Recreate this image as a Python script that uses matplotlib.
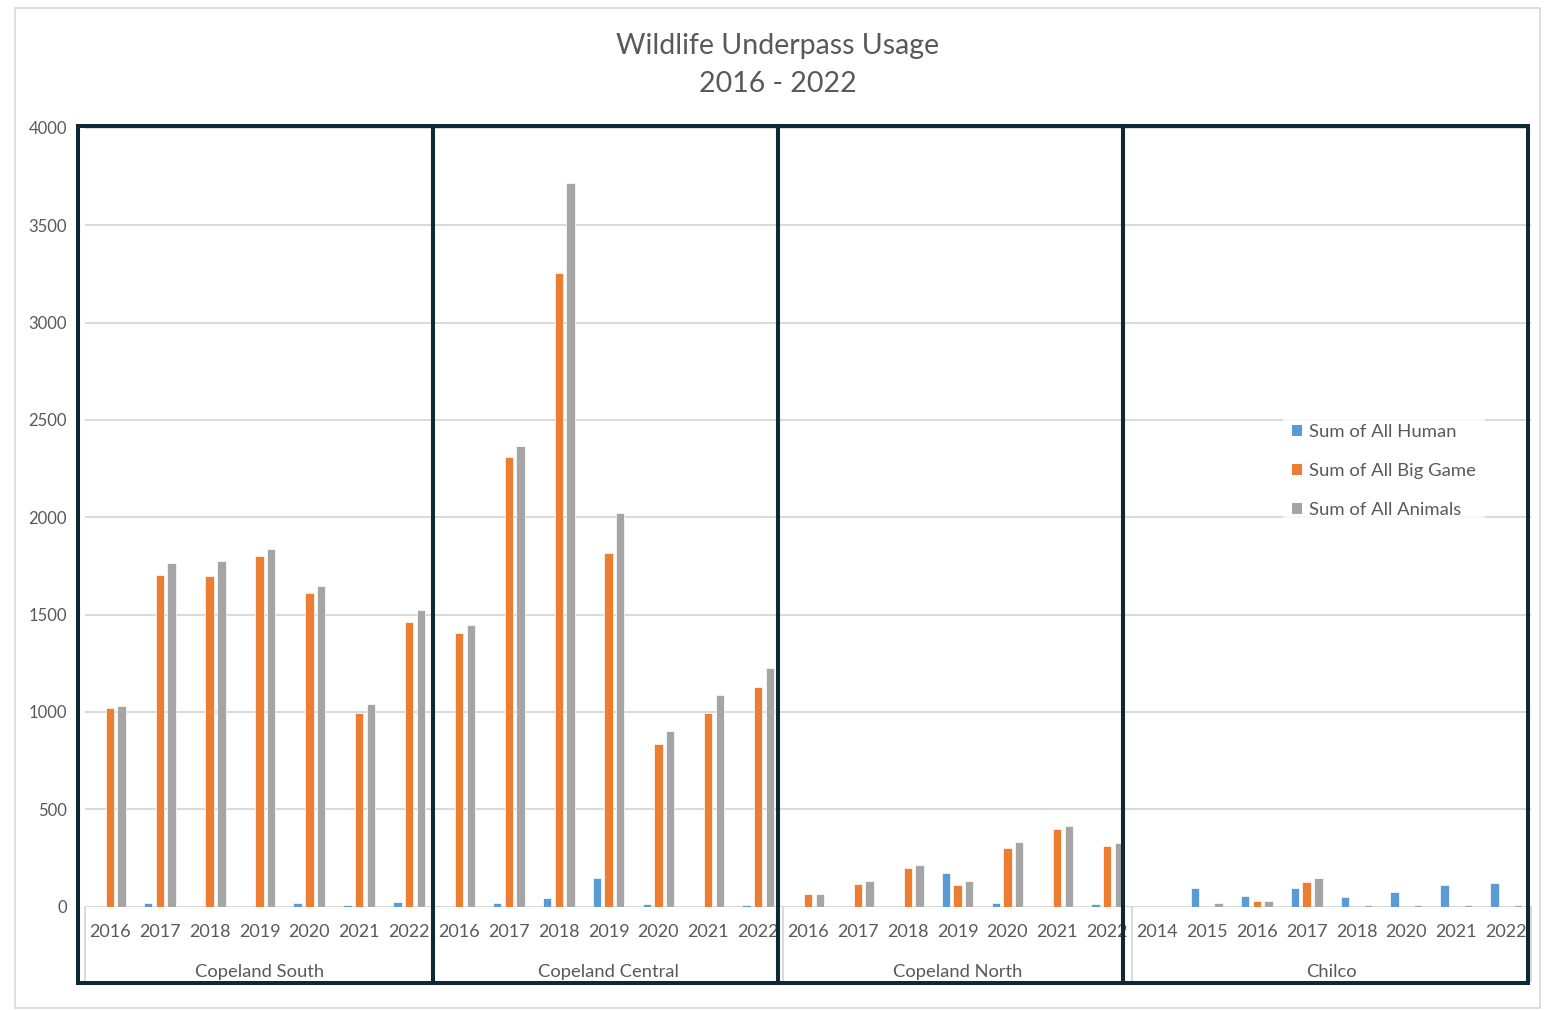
import matplotlib.pyplot as plt
from matplotlib.patches import Rectangle, Patch
import matplotlib.transforms as mtransforms
import numpy as np

plt.rcParams['font.family'] = ['Lato', 'DejaVu Sans']

# underpass sites and the survey years recorded at each
sites = ['Copeland South', 'Copeland Central', 'Copeland North', 'Chilco']
site_years = [
    ['2016', '2017', '2018', '2019', '2020', '2021', '2022'],
    ['2016', '2017', '2018', '2019', '2020', '2021', '2022'],
    ['2016', '2017', '2018', '2019', '2020', '2021', '2022'],
    ['2014', '2015', '2016', '2017', '2018', '2020', '2021', '2022'],
]

# one value per site/year, in the same order as above
human = [0, 17, 0, 0, 17, 8, 25,
         0, 20, 45, 146, 15, 0, 10,
         0, 0, 0, 171, 20, 0, 15,
         0, 98, 53, 93, 48, 75, 109, 120]
big_game = [1020, 1705, 1700, 1800, 1612, 995, 1462,
            1405, 2310, 3256, 1817, 834, 995, 1127,
            65, 116, 198, 109, 300, 399, 310,
            0, 0, 31, 125, 0, 0, 0, 0]
animals = [1028, 1766, 1776, 1838, 1648, 1040, 1523,
           1446, 2367, 3719, 2023, 901, 1089, 1226,
           65, 133, 215, 133, 332, 416, 327,
           0, 20, 31, 149, 10, 10, 10, 10]

series = [('Sum of All Human', human, '#5B9BD5'),
          ('Sum of All Big Game', big_game, '#ED7D31'),
          ('Sum of All Animals', animals, '#A5A5A5')]

W, H = 1547, 1010
txt = '#595959'
grid = '#d9d9d9'
navy = '#0e2835'

fig = plt.figure(figsize=(W / 100, H / 100), dpi=100)

# pixel helpers
def fx(px):
    return px / W

def fy(py):
    return 1 - py / H

left, right, top, base = 85, 1531, 128, 906.6
ax = fig.add_axes([fx(left), fy(base), fx(right - left), (base - top) / H])

n = len(human)
x = np.arange(n)
bw = 0.167
step = 0.235
for i, (name, vals, col) in enumerate(series):
    ax.bar(x + (i - 1) * step, vals, width=bw, color=col,
           edgecolor='white', linewidth=0.5, zorder=3, label=name)

ax.set_xlim(-0.5, n - 0.5)
ax.set_ylim(0, 4000)
ax.set_yticks(range(0, 4001, 500))
ax.yaxis.grid(True, color=grid, linewidth=1.4, zorder=0)
ax.set_axisbelow(True)
ax.set_xticks([])
ax.tick_params(axis='y', length=0, pad=13, labelsize=12, labelcolor=txt)
for s in ax.spines.values():
    s.set_visible(False)
ax.axhline(0, color=grid, linewidth=1.4, zorder=1)

# two-level category axis: years, then site names
trans = mtransforms.blended_transform_factory(ax.transData, ax.transAxes)
axis_h = base - top
yr_y = -(932 - base) / axis_h
site_y = -(972 - base) / axis_h
line_bottom = -(981 - base) / axis_h

pos = 0
bounds = [pos]
for site, years in zip(sites, site_years):
    for k, yr in enumerate(years):
        ax.text(pos + k, yr_y, yr, transform=trans, ha='center', va='center',
                fontsize=13, color=txt, clip_on=False)
    mid = pos + (len(years) - 1) / 2
    ax.text(mid, site_y, site, transform=trans, ha='center', va='center',
            fontsize=13.2, color=txt, clip_on=False)
    pos += len(years)
    bounds.append(pos)

for b in bounds:
    ax.plot([b - 0.5, b - 0.5], [0, line_bottom], transform=trans,
            color=grid, linewidth=1.4, clip_on=False, zorder=1)

# title
fig.text(fx(778), fy(46), 'Wildlife Underpass Usage', ha='center', va='center',
         fontsize=20.5, color=txt)
fig.text(fx(778), fy(84), '2016 - 2022', ha='center', va='center',
         fontsize=20.5, color=txt)

# legend
handles = [Patch(facecolor=c, edgecolor='none', label=nm) for nm, _, c in series]
leg = fig.legend(handles=handles, loc='center left',
                 bbox_to_anchor=(fx(1283), fy(471)), frameon=True,
                 fontsize=13.3, labelcolor=txt, handlelength=0.55,
                 handleheight=0.55, handletextpad=0.35, labelspacing=1.25,
                 borderpad=0.5, borderaxespad=0)
leg.get_frame().set_facecolor('white')
leg.get_frame().set_edgecolor('none')
leg.get_frame().set_boxstyle('square', pad=0)

# outer chart border
fig.add_artist(Rectangle((fx(15), fy(1008)), fx(1540 - 15), (1008 - 8) / H,
                         transform=fig.transFigure, fill=False,
                         edgecolor=grid, linewidth=1.2))

# dark outlines around each site
box_edges = [78, 433, 778, 1123, 1528]
for a, b in zip(box_edges[:-1], box_edges[1:]):
    fig.add_artist(Rectangle((fx(a), fy(983)), fx(b - a), (983 - 126) / H,
                             transform=fig.transFigure, fill=False,
                             edgecolor=navy, linewidth=2.9, zorder=10))

fig.savefig('out.png', dpi=100)
